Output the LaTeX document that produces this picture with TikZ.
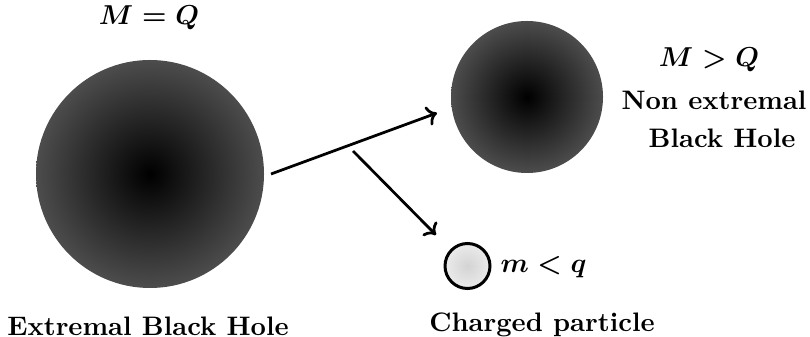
\documentclass[tikz,border=0pt]{standalone}
\usetikzlibrary{arrows.meta}
\begin{document}
\begin{tikzpicture}[x=0.4pt,y=-0.4pt,
  lbl/.style={font=\fontsize{10.7pt}{13pt}\selectfont\bfseries\boldmath, inner sep=0pt, align=center},
  hole/.style={circle, inner sep=0pt, inner color=black, outer color=black!70!white},
  conn/.style={line width=1.1pt, -{To[length=4pt,width=8pt,line width=1.1pt]}}]
\useasboundingbox (0,0) rectangle (810,337);
\node[hole, minimum size=228*0.4pt] (ebh) at (150,174) {};
\node[hole, minimum size=152*0.4pt] (nbh) at (527,97) {};
\node[circle, draw=black, line width=1.2pt, inner sep=0pt, minimum size=45*0.4pt,
  inner color=black!17, outer color=black!8] (cp) at (467.5,266) {};
\node[lbl] (mq) at (149,18) {$M=Q$};
\node[lbl] (mgq) at (709,60) {$M>Q$};
\node[lbl] (ne) at (714,100) {Non extremal};
\node[lbl] (bh) at (722,138) {Black Hole};
\node[lbl, anchor=west] (mlq) at (500,267) {$m<q$};
\node[lbl] (ebht) at (148,326) {Extremal Black Hole};
\node[lbl] (cpt) at (542,325) {Charged particle};
\coordinate (a1s) at (271,174);
\coordinate (a1e) at (437,113);
\coordinate (a2s) at (353,151);
\coordinate (a2e) at (436,235);
\draw[conn] (a1s) -- (a1e);
\draw[conn] (a2s) -- (a2e);
\end{tikzpicture}
\end{document}
